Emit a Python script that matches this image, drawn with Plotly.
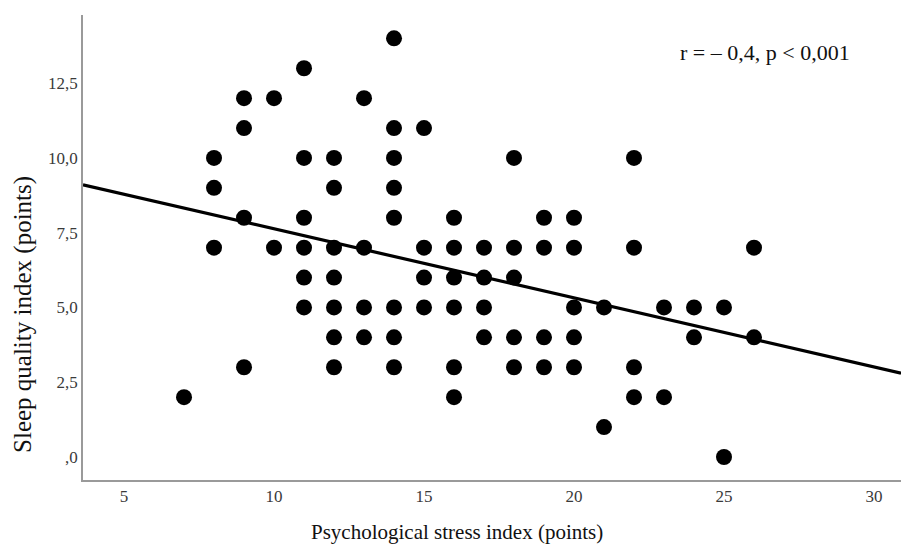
import plotly.graph_objects as go

# Data (stress index, sleep quality index)
stress = [7,
          8, 8, 8,
          9, 9, 9, 9,
          10, 10,
          11, 11, 11, 11, 11, 11,
          12, 12, 12, 12, 12, 12, 12,
          13, 13, 13, 13,
          14, 14, 14, 14, 14, 14, 14, 14,
          15, 15, 15, 15,
          16, 16, 16, 16, 16, 16,
          17, 17, 17, 17,
          18, 18, 18, 18, 18,
          19, 19, 19, 19,
          20, 20, 20, 20, 20,
          21, 21,
          22, 22, 22, 22,
          23, 23,
          24, 24,
          25, 25,
          26, 26]
sleep = [2,
         10, 9, 7,
         12, 11, 8, 3,
         12, 7,
         13, 10, 8, 7, 6, 5,
         10, 9, 7, 6, 5, 4, 3,
         12, 7, 5, 4,
         14, 11, 10, 9, 8, 5, 4, 3,
         11, 7, 6, 5,
         8, 7, 6, 5, 3, 2,
         7, 6, 5, 4,
         10, 7, 6, 4, 3,
         8, 7, 4, 3,
         8, 7, 5, 4, 3,
         5, 1,
         10, 7, 3, 2,
         5, 2,
         5, 4,
         5, 0,
         7, 4]

# Fit line
fit_intercept = 9.94
fit_slope = -0.231

x_range = [3.633, 30.9]
y_range = [-0.77, 14.78]

x_tickvals = [5, 10, 15, 20, 25, 30]
x_ticktext = ["5", "10", "15", "20", "25", "30"]
y_tickvals = [0, 2.5, 5, 7.5, 10, 12.5]
y_ticktext = [",0", "2,5", "5,0", "7,5", "10,0", "12,5"]

annotation_text = "r = – 0,4, p < 0,001"
x_title = "Psychological stress index (points)"
y_title = "Sleep quality index (points)"

fit_x = x_range
fit_y = [fit_intercept + fit_slope * v for v in fit_x]

serif = "Liberation Serif, Times New Roman, serif"

fig = go.Figure()
fig.add_trace(go.Scatter(
    x=fit_x, y=fit_y, mode="lines",
    line=dict(color="black", width=3.2),
    hoverinfo="skip", showlegend=False, cliponaxis=True,
))
fig.add_trace(go.Scatter(
    x=stress, y=sleep, mode="markers",
    marker=dict(color="black", size=16, line=dict(width=0)),
    showlegend=False, cliponaxis=False,
))

fig.update_layout(
    width=901, height=545,
    margin=dict(l=83, r=0, t=15, b=65, pad=0),
    paper_bgcolor="white", plot_bgcolor="white",
    font=dict(family=serif, color="#000"),
    showlegend=False,
    annotations=[
        dict(text=annotation_text, xref="paper", yref="paper",
             x=0.834, y=0.92, xanchor="center", yanchor="middle",
             showarrow=False, font=dict(family=serif, size=22, color="#111")),
        dict(text=x_title, xref="paper", yref="paper",
             x=0.457, y=-0.112, xanchor="center", yanchor="middle",
             showarrow=False, font=dict(family=serif, size=21, color="#111")),
        dict(text=y_title, xref="paper", yref="paper", textangle=-90,
             x=-0.0733, y=0.355, xanchor="center", yanchor="middle",
             showarrow=False, font=dict(family=serif, size=25, color="#111")),
    ],
)
fig.update_xaxes(
    range=x_range, tickvals=x_tickvals, ticktext=x_ticktext,
    showline=True, linecolor="#9a9a9a", linewidth=1.5,
    showgrid=False, zeroline=False, ticks="", automargin=False,
    tickfont=dict(family=serif, size=17, color="#3a3a3a"),
)
fig.update_yaxes(
    range=y_range, tickvals=y_tickvals, ticktext=y_ticktext,
    showline=True, linecolor="#9a9a9a", linewidth=1.5,
    showgrid=False, zeroline=False, ticks="", automargin=False,
    tickfont=dict(family=serif, size=17, color="#3a3a3a"),
)

fig.write_html("out.html", config={"displayModeBar": False},
               post_script="document.body.style.margin='0';")
